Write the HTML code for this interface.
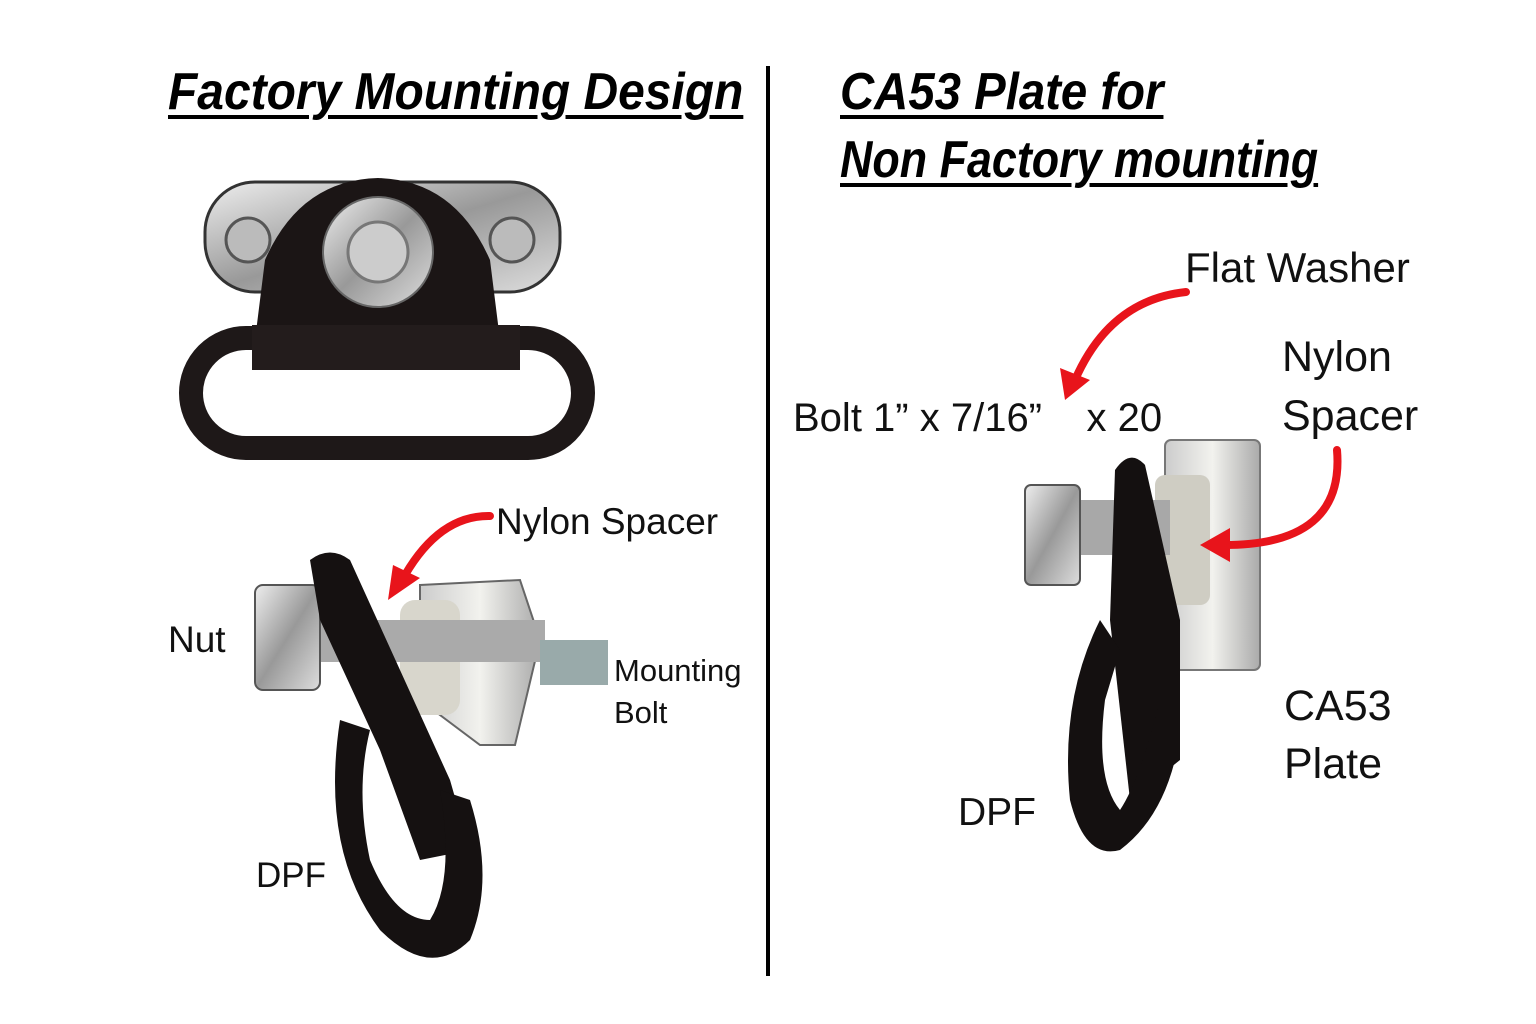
<!DOCTYPE html>
<html><head><style>
body{margin:0;background:#fff;}
.t{position:absolute;font-family:"Liberation Sans",sans-serif;font-weight:bold;font-style:italic;text-decoration:underline;text-decoration-thickness:4px;text-underline-offset:6px;font-size:52px;color:#000;white-space:nowrap;line-height:1;transform-origin:0 0}
.l{position:absolute;font-family:"Liberation Sans",sans-serif;color:#111;white-space:nowrap;line-height:1}
</style></head><body>
<div style="position:relative;width:1536px;height:1024px;overflow:hidden">
<svg width="1536" height="1024" style="position:absolute;left:0;top:0">
<defs>
<linearGradient id="s" x1="0" y1="0" x2="1" y2="1"><stop offset="0" stop-color="#eee"/><stop offset=".5" stop-color="#999"/><stop offset="1" stop-color="#ddd"/></linearGradient>
<linearGradient id="p" x1="0" y1="0" x2="1" y2="0"><stop offset="0" stop-color="#ccc"/><stop offset=".5" stop-color="#f2f2ee"/><stop offset="1" stop-color="#aaa"/></linearGradient>
</defs>
<rect x="766" y="66" width="4" height="910" fill="#000"/>
<rect x="205" y="182" width="355" height="110" rx="50" fill="url(#s)" stroke="#333" stroke-width="3"/>
<circle cx="248" cy="240" r="22" fill="#bbb" stroke="#555" stroke-width="3"/>
<circle cx="512" cy="240" r="22" fill="#bbb" stroke="#555" stroke-width="3"/>
<path d="M255 340 L265 260 Q300 180 378 178 Q455 180 490 260 L500 340 Z" fill="#1b1515"/>
<rect x="191" y="338" width="392" height="110" rx="55" fill="none" stroke="#1e1818" stroke-width="24"/>
<rect x="252" y="325" width="268" height="45" fill="#231c1c"/>
<circle cx="378" cy="252" r="55" fill="url(#s)" stroke="#666" stroke-width="2"/>
<circle cx="378" cy="252" r="30" fill="#ccc" stroke="#777" stroke-width="3"/>
<path d="M420 585 L520 580 L540 640 L515 745 L480 745 L420 700 Z" fill="url(#p)" stroke="#666" stroke-width="2"/>
<rect x="400" y="600" width="60" height="115" rx="15" fill="#d8d6cc"/>
<rect x="320" y="620" width="225" height="42" fill="#aaa"/>
<rect x="540" y="640" width="68" height="45" fill="#9aa"/>
<rect x="255" y="585" width="65" height="105" rx="8" fill="url(#s)" stroke="#555" stroke-width="2"/>
<path d="M310 560 Q330 545 350 560 L450 780 L470 850 L420 860 L380 750 L320 620 Z" fill="#151111"/>
<path d="M340 720 Q320 850 380 930 Q430 980 470 940 Q495 880 470 800 L440 790 Q455 880 430 920 Q395 920 370 860 Q355 790 370 730 Z" fill="#151111"/>
<rect x="1165" y="440" width="95" height="230" rx="6" fill="url(#p)" stroke="#777" stroke-width="2"/>
<rect x="1155" y="475" width="55" height="130" rx="10" fill="#cfcdc3"/>
<rect x="1070" y="500" width="100" height="55" fill="#a8a8a8"/>
<rect x="1025" y="485" width="55" height="100" rx="6" fill="url(#s)" stroke="#555" stroke-width="2"/>
<path d="M1115 470 Q1130 448 1145 465 L1180 620 L1180 760 L1130 800 L1110 620 Z" fill="#141010"/>
<path d="M1100 620 Q1060 700 1070 800 Q1085 860 1120 850 Q1160 820 1175 760 L1160 700 Q1140 780 1120 810 Q1095 780 1105 700 L1120 650 Z" fill="#141010"/>
<g fill="none" stroke="#e8141b" stroke-width="8" stroke-linecap="round">
<path d="M490 516 Q440 515 405 575"/>
<path d="M1186 292 Q1110 300 1075 380"/>
<path d="M1337 450 Q1345 545 1225 545"/>
</g>
<g fill="#e8141b">
<polygon points="388,600 393,565 420,578"/>
<polygon points="1065,400 1060,368 1090,380"/>
<polygon points="1200,545 1230,528 1230,562"/>
</g>
</svg>
<div class="t" style="left:168px;top:66px;transform:scaleX(0.922)">Factory Mounting Design</div>
<div class="t" style="left:840px;top:66px;transform:scaleX(0.91)">CA53 Plate for</div>
<div class="t" style="left:840px;top:134px;transform:scaleX(0.862)">Non Factory mounting</div>
<div class="l" style="left:1185px;top:247px;font-size:42px">Flat Washer</div>
<div class="l" style="left:1282px;top:336px;font-size:43px">Nylon</div>
<div class="l" style="left:1282px;top:395px;font-size:43px">Spacer</div>
<div class="l" style="left:793px;top:398px;font-size:40px">Bolt 1” x 7/16”&nbsp;&nbsp;&nbsp;&nbsp;x 20</div>
<div class="l" style="left:1284px;top:685px;font-size:43px">CA53</div>
<div class="l" style="left:1284px;top:743px;font-size:43px">Plate</div>
<div class="l" style="left:958px;top:793px;font-size:39px">DPF</div>
<div class="l" style="left:496px;top:503px;font-size:37px">Nylon Spacer</div>
<div class="l" style="left:168px;top:621px;font-size:37px">Nut</div>
<div class="l" style="left:614px;top:655px;font-size:31px">Mounting</div>
<div class="l" style="left:614px;top:697px;font-size:31px">Bolt</div>
<div class="l" style="left:256px;top:858px;font-size:35px">DPF</div>
</div>
</body></html>
